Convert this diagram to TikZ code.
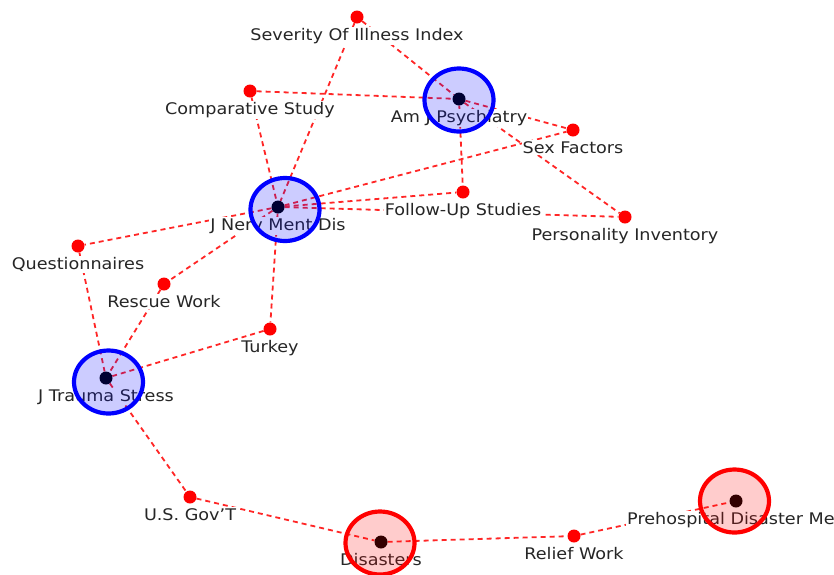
\documentclass[tikz,border=0pt]{standalone}
\usepackage{fontspec}
\setmainfont{DejaVu Sans}[FakeStretch=1.1]
\usetikzlibrary{shapes.geometric,backgrounds}

\tikzset{
  term/.style={circle, fill=red, inner sep=0pt, minimum size=13pt},
  hub/.style={circle, fill=black, inner sep=0pt, minimum size=13pt},
  lbl/.style={fill=white, inner sep=1pt, text=black!85, font=\fontsize{16}{18}\selectfont},
  link/.style={red!85, line width=1.8pt, dash pattern=on 5pt off 4pt},
  ring/.style={ellipse, line width=4.2pt, fill opacity=0.2, minimum width=69pt, minimum height=63pt},
  every label/.style={lbl},
  label distance=3.5pt
}

\begin{document}
\begin{tikzpicture}[x=1pt, y=-1pt]
	%%%%% START %%%%%
	\useasboundingbox (0, 0) rectangle (834, 574);
	
	\node[term, label=below:Severity Of Illness Index] (sev) at (357, 17) {};
	\node[term, label=below:Comparative Study] (comp) at (250, 91) {};
	\node[hub, label=below:Am J Psychiatry] (amj) at (459, 99) {};
	\node[term, label=below:Sex Factors] (sex) at (573, 130) {};
	\node[hub, label=below:J Nerv Ment Dis] (jnmd) at (278, 207) {};
	\node[term, label=below:Follow-Up Studies] (fus) at (463, 192) {};
	\node[term, label=below:Personality Inventory] (pers) at (625, 217) {};
	\node[term, label=below:Questionnaires] (quest) at (78, 246) {};
	\node[term, label=below:Rescue Work] (rescue) at (164, 284) {};
	\node[term, label=below:Turkey] (turkey) at (270, 329) {};
	\node[hub, label=below:J Trauma Stress] (jts) at (106, 378) {};
	\node[term, label=below:U.S. Gov'T] (usgov) at (190, 497) {};
	\node[hub, label=below:Disasters] (dis) at (381, 542) {};
	\node[term, label=below:Relief Work] (relief) at (574, 536) {};
	\node[hub, label={[anchor=north west, xshift=-110pt]below:Prehospital Disaster Me}] (prehosp) at (736, 501) {};
	
	\begin{scope}[on background layer]
		\foreach \a/\b in {sev/jnmd, sev/amj, comp/jnmd, comp/amj, amj/sex, amj/pers, amj/fus,
			jnmd/sex, jnmd/fus, jnmd/pers, jnmd/quest, jnmd/rescue, jnmd/turkey,
			quest/jts, rescue/jts, turkey/jts, jts/usgov, usgov/dis, dis/relief, relief/prehosp}
			\draw[link] (\a) -- (\b);
	\end{scope}
	
	\node[ring, draw=blue, fill=blue] at (459, 100) {};
	\node[ring, draw=blue, fill=blue] at (285, 209.5) {};
	\node[ring, draw=blue, fill=blue] at (108.5, 382) {};
	\node[ring, draw=red, fill=red] at (380, 543) {};
	\node[ring, draw=red, fill=red] at (734.5, 501) {};
	
	%%%%% END %%%%%
\end{tikzpicture}
\end{document}
